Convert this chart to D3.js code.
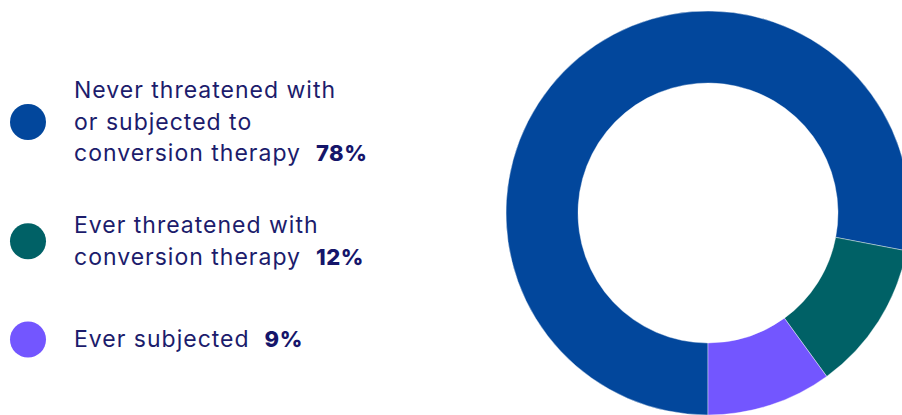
<!DOCTYPE html>
<html>
<head>
<meta charset="utf-8">
<script src="https://cdn.jsdelivr.net/npm/d3@7"></script>
<style>
  html, body { margin: 0; padding: 0; background: #fff; }
  svg { display: block; }
  .legend-text { font-family: Inter, "Noto Sans", sans-serif; font-size: 23px; letter-spacing: 1px; fill: #1c1c6c; }
  .legend-pct { font-size: 22px; font-weight: 800; letter-spacing: 0.5px; fill: #15156a; }
</style>
</head>
<body>
<svg id="chart" width="902" height="415"></svg>
<script>
  var categories = ["Never threatened with or subjected to conversion therapy",
    "Ever threatened with conversion therapy", "Ever subjected"];
  var label_lines = [["Never threatened with", "or subjected to", "conversion therapy"],
    ["Ever threatened with", "conversion therapy"],
    ["Ever subjected"]];
  var shares = [78, 12, 10];
  var pct_labels = ["78%", "12%", "9%"];
  var colors = ["#02479c", "#006166", "#7356ff"];

  var svg = d3.select("#chart");

  var cx = 708, cy = 213,
    outer_r = 202, inner_r = 130;

  var color_scale = d3.scaleOrdinal()
    .domain(categories)
    .range(colors);

  var pie = d3.pie()
    .sort(null)
    .value(function(d, i) { return shares[i]; })
    .startAngle(Math.PI)
    .endAngle(3 * Math.PI);

  var arc = d3.arc()
    .innerRadius(inner_r)
    .outerRadius(outer_r);

  var donut = svg.append("g")
    .attr("transform", "translate(" + cx + "," + cy + ")");

  donut.selectAll("path")
    .data(pie(categories))
    .enter()
    .append("path")
    .attr("d", arc)
    .style("fill", function(d) { return color_scale(d.data); })
    .style("stroke", "#ffffff")
    .style("stroke-width", 0.4);

  // legend
  var legend_top = [98, 233, 347];
  var line_h = 31.5;

  var legend = svg.selectAll(".legend")
    .data(categories)
    .enter()
    .append("g")
    .attr("class", "legend")
    .attr("transform", function(d, i) { return "translate(0," + legend_top[i] + ")"; });

  legend.append("circle")
    .attr("cx", 28)
    .attr("cy", function(d, i) { return (label_lines[i].length - 1) * line_h / 2 - 7.5; })
    .attr("r", 18)
    .style("fill", color_scale);

  legend.each(function(d, i) {
    var text = d3.select(this).append("text")
      .attr("class", "legend-text")
      .attr("x", 74)
      .attr("y", 0);
    var lines = label_lines[i];
    lines.forEach(function(line, j) {
      text.append("tspan")
        .attr("x", 74)
        .attr("y", j * line_h)
        .text(line);
    });
    text.append("tspan")
      .attr("class", "legend-pct")
      .attr("dx", 15)
      .text(pct_labels[i]);
  });
</script>
</body>
</html>
